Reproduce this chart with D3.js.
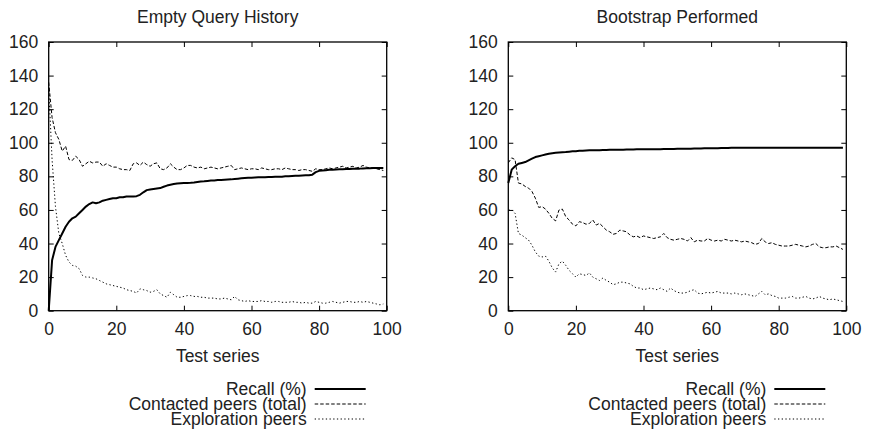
<!DOCTYPE html>
<html>
<head>
<meta charset="utf-8">
<script src="https://cdn.jsdelivr.net/npm/d3@7"></script>
<style>
  html, body { margin: 0; padding: 0; background: #fff; }
  text { font-family: "Liberation Sans", Arial, Helvetica, sans-serif; fill: #222; }
</style>
</head>
<body>
<svg id="chart" width="871" height="438"></svg>
<script>
// ---------- data ----------
const xTicks = [0, 20, 40, 60, 80, 100];
const yTicks = [0, 20, 40, 60, 80, 100, 120, 140, 160];
const panelTitles = ["Empty Query History", "Bootstrap Performed"];
const xLabel = "Test series";
const seriesNames = ["Recall (%)", "Contacted peers (total)", "Exploration peers"];

const emptyRecall = [0,30,38,42,46,50,53,55,56,58,60,62,63.5,64.5,64,64.5,65.5,66,66.5,67,
  67,67.5,67.5,68,68,68,68.2,69,70.5,71.8,72.2,72.5,72.8,73,73.8,74.5,75,75.4,75.7,75.9,
  76,76.1,76.2,76.4,76.7,77,77.1,77.3,77.5,77.6,77.8,77.9,78,78.1,78.2,78.4,78.6,78.8,79,79.1,
  79.2,79.3,79.4,79.4,79.5,79.6,79.6,79.7,79.8,79.8,80,80.1,80.2,80.3,80.4,80.5,80.6,80.7,81,82.5,
  83.3,83.5,83.7,83.9,84,84.1,84.2,84.3,84.4,84.4,84.5,84.6,84.6,84.7,84.8,84.8,84.9,85,85,85];
const emptyContacted = [136,115,106,102,95,98,90,89.5,92,90,86,87.5,89,88,88.5,88.5,86,87.5,86.5,85.5,
  85.5,84.5,84,84,83.5,87.5,88,86.5,88.5,87,86,87.5,88,84.5,84,85,87.5,85.5,84,84,
  85,86.5,86.5,85.5,85,85.5,84.5,85,85.5,85,84.5,85,85.5,86,86.5,84,84.5,85,84.5,84,
  84.5,84.5,84,85,84.5,84,84,84.5,84.5,84,85,84.5,84,84,83.5,84,84,83.5,83,84.5,
  84,84,84.5,85,84.5,85,85.5,86,85,85.5,86,85,85.5,86.5,85.5,85,85,84.5,84,83.5];
const emptyExploration = [133,90,62,46,40,33,29,27,26.5,25,21,20,20,19.5,19,18,17,16,15.5,15,
  14.5,14,13.5,12.5,12,11.5,10.5,13,12.5,12,11,11.5,12.5,10,9,8,11,9.5,8,8,
  8.5,9,9,8.5,8.5,8,8,7.5,7.5,7.5,7,7,7.5,7,6.5,8.5,6.5,6,5.5,6,
  5.5,5.5,5.5,6,5.5,5.5,5,5.5,5.5,5,5,5,5.5,5,5,4.5,5,4.5,4.5,5.5,
  5,4.5,4.5,5,5.5,5,4.5,5,5.5,5.5,5,5,5.5,5,5.5,5,4.5,4,3.5,4];

const bootRecall = [76,84,86,87.5,88,88.5,89.5,90.5,91.5,92,92.5,93,93.5,93.8,94,94.2,94.4,94.5,94.7,94.9,
  95,95.2,95.3,95.4,95.5,95.5,95.6,95.6,95.7,95.7,95.8,95.8,95.9,95.9,95.9,96,96,96,96.1,96.1,
  96.1,96.1,96.2,96.2,96.2,96.2,96.3,96.3,96.3,96.3,96.4,96.4,96.5,96.5,96.5,96.6,96.6,96.6,96.7,96.7,
  96.8,96.8,96.8,96.9,96.9,96.9,97,97,97,97.1,97.1,97.1,97.1,97.1,97.1,97.1,97.1,97.1,97.1,97.1,
  97.1,97.1,97.1,97.1,97.1,97.1,97.1,97.1,97.1,97.1,97.1,97.1,97.1,97.1,97.1,97.1,97.1,97.1,97.1,97.1];
const bootContacted = [88,91,90,76,75.5,74,73,71,67,61.5,62,60.5,58,55,53.5,60,60.5,56,54,51.5,
  50.5,53,52.5,51.5,52,54,51,52,50,48,47,45.5,46,48,47.5,47,45,44,44.5,43.5,
  44.5,44,43.5,43,43.5,44,46,43.5,42.5,42,42.5,43,42.5,41.5,43.5,41,42,41.5,41.5,43,
  42,41.5,42,41.5,42.5,42,41.5,42,41.5,41,41.5,41,40.5,39.5,40,43,41,40,40.5,39.5,
  39,38.5,38.5,38.5,39,39.5,39,38.5,38,38.5,39.5,40,38,37.5,37.5,38,38,38.5,37.5,36.5];
const bootExploration = [60,60,58,46,45,43.5,42,39,35,32.5,32,32.5,29.5,25.5,23,28,29.5,27,24,22,
  20,22,21.5,21,22.5,20,19,18,19.5,18,17,15.5,16,17,17,16.5,16,14.5,13.5,13.5,
  12.5,13,13.5,13,12.5,13.5,12.5,11.5,13.5,12,11,10.5,10.5,11,12,12.5,10.5,10,10.5,11,
  10.5,11,11.5,10.5,10.5,10.5,10,10.5,10,9.5,10,9.5,9,8.5,10,11.5,9.5,10,9,8.5,
  7.5,7.5,7.5,8,8.5,7.5,7.5,8,8.5,7.5,7,7.5,8.5,7.5,7,6.5,7,6.5,6,5.5];

const panels = [
  { title: panelTitles[0], series: [emptyRecall, emptyContacted, emptyExploration] },
  { title: panelTitles[1], series: [bootRecall, bootContacted, bootExploration] }
];

// ---------- styles ----------
const styles = [
  { width: 2, dash: null },
  { width: 1, dash: "3.5,2" },
  { width: 1, dash: "1.3,2.4" }
];

const svg = d3.select("#chart");
const FS = 17.5;
const plotTop = 42, plotBottom = 310.7;
const lefts = [48.7, 508.3], W = 338;

panels.forEach((p, i) => {
  const x0 = lefts[i];
  const x = d3.scaleLinear().domain([0, 100]).range([x0, x0 + W]);
  const y = d3.scaleLinear().domain([0, 160]).range([plotBottom, plotTop]);
  const g = svg.append("g");

  // axes with inward ticks
  const axB = g.append("g").attr("transform", `translate(0,${plotBottom})`)
    .call(d3.axisBottom(x).tickValues(xTicks).tickSize(-5).tickPadding(12));
  const axL = g.append("g").attr("transform", `translate(${x0},0)`)
    .call(d3.axisLeft(y).tickValues(yTicks).tickSize(-5).tickPadding(10.5));
  const axT = g.append("g").attr("transform", `translate(0,${plotTop})`)
    .call(d3.axisTop(x).tickValues(xTicks).tickSize(-5).tickFormat(""));
  const axR = g.append("g").attr("transform", `translate(${x0 + W},0)`)
    .call(d3.axisRight(y).tickValues(yTicks).tickSize(-5).tickFormat(""));
  [axB, axL, axT, axR].forEach(a => {
    a.select(".domain").remove();
    a.selectAll("line").attr("stroke", "#000").attr("stroke-width", 1);
    a.selectAll("text").attr("font-size", FS).attr("fill", "#222")
      .attr("font-family", '"Liberation Sans", Arial, sans-serif');
  });

  g.append("rect").attr("x", x0).attr("y", plotTop).attr("width", W).attr("height", plotBottom - plotTop)
    .attr("fill", "none").attr("stroke", "#000").attr("stroke-width", 1.3);

  // series
  const line = d3.line().x((d, k) => x(k)).y(d => y(d));
  p.series.forEach((s, k) => {
    g.append("path").datum(s).attr("d", line)
      .attr("fill", "none").attr("stroke", "#000")
      .attr("stroke-width", styles[k].width)
      .attr("stroke-dasharray", styles[k].dash)
      .attr("stroke-linejoin", "round");
  });

  // title
  g.append("text").attr("x", x0 + W / 2).attr("y", 23).attr("text-anchor", "middle")
    .attr("font-size", FS).text(p.title);
  // x label
  g.append("text").attr("x", x0 + W / 2).attr("y", 362).attr("text-anchor", "middle")
    .attr("font-size", FS).text(xLabel);

  // legend
  const tx = x0 + W - 80;
  seriesNames.forEach((nm, k) => {
    const by = 394.5 + k * 15;
    g.append("text").attr("x", tx).attr("y", by).attr("text-anchor", "end")
      .attr("font-size", FS).text(nm);
    g.append("line").attr("x1", tx + 8).attr("x2", x0 + W - 21)
      .attr("y1", by - 5.5).attr("y2", by - 5.5)
      .attr("stroke", "#000").attr("stroke-width", styles[k].width)
      .attr("stroke-dasharray", styles[k].dash);
  });
});
</script>
</body>
</html>
